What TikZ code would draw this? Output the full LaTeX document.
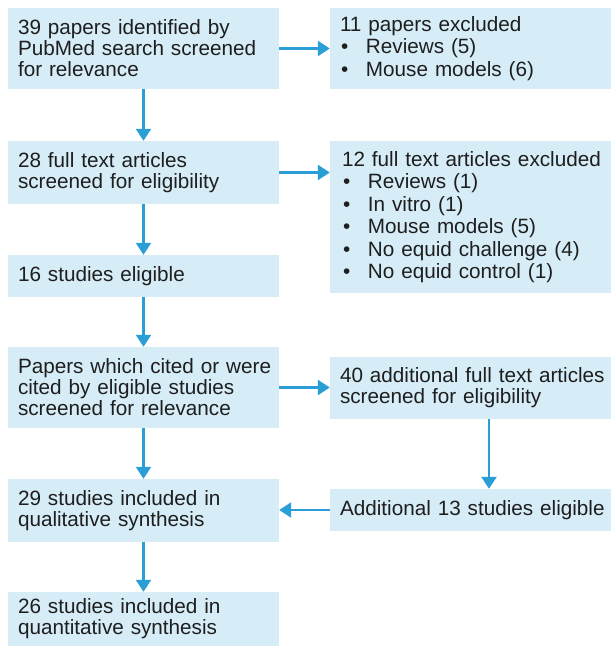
\documentclass[tikz,border=0pt]{standalone}
\usepackage{fontspec}
\setmainfont{Liberation Sans}
\usetikzlibrary{arrows.meta}
\definecolor{boxfill}{HTML}{D6EDF8}
\definecolor{arrowblue}{HTML}{2A9FD6}
\definecolor{txt}{HTML}{1E1E1E}
\newcommand{\bitem}[1]{\mbox{\makebox[26pt][l]{\hspace{1pt}\textbullet}#1}}
\newcommand{\oneline}[1]{\mbox{#1}}
\begin{document}
\begin{tikzpicture}[x=1pt,y=-1pt,
  box/.style={fill=boxfill, text=txt, inner xsep=10pt, inner ysep=0pt,
    align=left, anchor=center, font=\fontsize{20.7}{21}\selectfont},
  lbox/.style={box, text width=251pt, minimum height=#1},
  rbox/.style={box, text width=261pt, minimum height=#1},
  listbox/.style={rbox=#1, font=\fontsize{20.7}{22.5}\selectfont},
  arr/.style={draw=arrowblue, line width=2.4pt, -{Triangle[width=15pt,length=12pt]}}]
\useasboundingbox (0,0) rectangle (611,646);

\node[lbox=81pt] (A) at (143.5,48.5) {\oneline{39 papers identified by}\\\oneline{PubMed search screened}\\\oneline{for relevance}};
\node[listbox=81pt] (B) at (470.5,48.5) {\oneline{11 papers excluded}\\\bitem{Reviews (5)}\\\bitem{Mouse models (6)}};
\node[lbox=63pt] (C) at (143.5,172.5) {\oneline{28 full text articles}\\\oneline{screened for eligibility}};
\node[listbox=152pt, inner xsep=12pt, text width=257pt] (D) at (470.5,217) {\oneline{12 full text articles excluded}\\\bitem{Reviews (1)}\\\bitem{In vitro (1)}\\\bitem{Mouse models (5)}\\\bitem{No equid challenge (4)}\\\bitem{No equid control (1)}};
\node[lbox=42pt] (E) at (143.5,276) {\oneline{16 studies eligible}};
\node[lbox=81pt] (F) at (143.5,387.5) {\oneline{Papers which cited or were}\\\oneline{cited by eligible studies}\\\oneline{screened for relevance}};
\node[rbox=62pt] (G) at (470.5,388) {\oneline{40 additional full text articles}\\\oneline{screened for eligibility}};
\node[rbox=42pt] (H) at (470.5,510) {\oneline{Additional 13 studies eligible}};
\node[lbox=63pt] (I) at (143.5,510.5) {\oneline{29 studies included in}\\\oneline{qualitative synthesis}};
\node[lbox=54pt] (J) at (143.5,619) {\oneline{26 studies included in}\\\oneline{quantitative synthesis}};

\coordinate (gx) at (489,0);
\draw[arr] (A.east) -- (A.east -| B.west);
\draw[arr] (A) -- (C);
\draw[arr] (C.east) -- (C.east -| D.west);
\draw[arr] (C) -- (E);
\draw[arr] (E) -- (F);
\draw[arr] (F.east) -- (F.east -| G.west);
\draw[arr] (G.south -| gx) -- (H.north -| gx);
\draw[arr] (H.west) -- (H.west -| I.east);
\draw[arr] (F) -- (I);
\draw[arr] (I) -- (J);
\end{tikzpicture}
\end{document}
